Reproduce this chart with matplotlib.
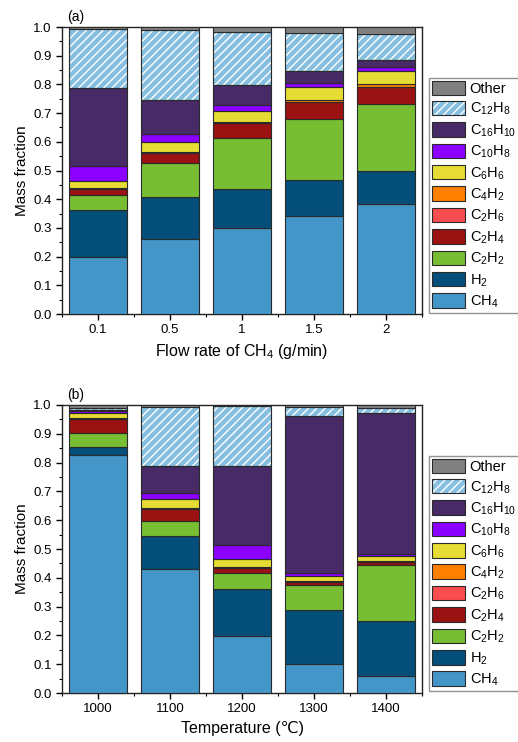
import numpy as np
import matplotlib
matplotlib.use("Agg")
import matplotlib.pyplot as plt
from matplotlib.patches import Patch
from matplotlib.legend_handler import HandlerTuple
from matplotlib.ticker import MultipleLocator

plt.rcParams['font.family'] = ['Liberation Sans', 'DejaVu Sans']
plt.rcParams['mathtext.default'] = 'regular'
plt.rcParams['hatch.linewidth'] = 1.0

# Species, bottom to top of each stacked bar
species = ["CH$_4$", "H$_2$", "C$_2$H$_2$", "C$_2$H$_4$", "C$_2$H$_6$", "C$_4$H$_2$",
           "C$_6$H$_6$", "C$_{10}$H$_8$", "C$_{16}$H$_{10}$", "C$_{12}$H$_8$", "Other"]
colors = ["#4596C8", "#034F7A", "#77BE33", "#9A1212", "#F94C4F", "#FF7F00",
          "#E6DC33", "#8B00FF", "#472A66", "#86BFDF", "#808080"]

# (a) effect of CH4 flow rate
flow_labels = ["0.1", "0.5", "1", "1.5", "2"]
flow_CH4    = [0.197, 0.261, 0.299, 0.340, 0.384]
flow_H2     = [0.165, 0.146, 0.137, 0.126, 0.115]
flow_C2H2   = [0.053, 0.120, 0.178, 0.214, 0.232]
flow_C2H4   = [0.020, 0.035, 0.050, 0.059, 0.059]
flow_C2H6   = [0.001, 0.001, 0.001, 0.001, 0.002]
flow_C4H2   = [0.002, 0.003, 0.004, 0.007, 0.010]
flow_C6H6   = [0.026, 0.032, 0.040, 0.043, 0.043]
flow_C10H8  = [0.053, 0.028, 0.019, 0.015, 0.016]
flow_C16H10 = [0.272, 0.119, 0.069, 0.043, 0.025]
flow_C12H8  = [0.205, 0.246, 0.186, 0.131, 0.090]
flow_Other  = [0.006, 0.009, 0.017, 0.021, 0.024]

# (b) effect of temperature
temp_labels = ["1000", "1100", "1200", "1300", "1400"]
temp_CH4    = [0.825, 0.431, 0.197, 0.100, 0.058]
temp_H2     = [0.029, 0.113, 0.164, 0.187, 0.192]
temp_C2H2   = [0.049, 0.054, 0.055, 0.088, 0.196]
temp_C2H4   = [0.048, 0.042, 0.019, 0.012, 0.010]
temp_C2H6   = [0.001, 0.001, 0.001, 0.001, 0.001]
temp_C4H2   = [0.004, 0.002, 0.002, 0.002, 0.003]
temp_C6H6   = [0.017, 0.031, 0.026, 0.017, 0.017]
temp_C10H8  = [0.006, 0.022, 0.051, 0.011, 0.007]
temp_C16H10 = [0.004, 0.091, 0.272, 0.543, 0.487]
temp_C12H8  = [0.005, 0.206, 0.210, 0.032, 0.020]
temp_Other  = [0.012, 0.007, 0.003, 0.007, 0.009]

flow_data = [flow_CH4, flow_H2, flow_C2H2, flow_C2H4, flow_C2H6, flow_C4H2,
             flow_C6H6, flow_C10H8, flow_C16H10, flow_C12H8, flow_Other]
temp_data = [temp_CH4, temp_H2, temp_C2H2, temp_C2H4, temp_C2H6, temp_C4H2,
             temp_C6H6, temp_C10H8, temp_C16H10, temp_C12H8, temp_Other]

HATCHED = "C$_{12}$H$_8$"
EDGE = "#2a2a2a"
HATCH = "////"

fig = plt.figure(figsize=(5.18, 7.42), dpi=100)
ax_a = fig.add_axes([0.1197, 0.5768, 0.695, 0.3868])
ax_b = fig.add_axes([0.1197, 0.0660, 0.695, 0.3882])


def draw_panel(ax, labels, data, xlabel, tag, legend_top):
    x = np.arange(len(labels))
    bottom = np.zeros(len(labels))
    for name, vals, col in zip(species, data, colors):
        vals = np.asarray(vals)
        if name == HATCHED:
            ax.bar(x, vals, 0.8, bottom=bottom, color=col, edgecolor="white",
                   hatch=HATCH, linewidth=0, zorder=2)
            ax.bar(x, vals, 0.8, bottom=bottom, facecolor="none",
                   edgecolor=EDGE, linewidth=0.8, zorder=3)
        else:
            ax.bar(x, vals, 0.8, bottom=bottom, color=col, edgecolor=EDGE,
                   linewidth=0.8, zorder=3)
        bottom += vals

    ax.set_xlim(-0.5, 4.5)
    ax.set_ylim(0, 1.0)
    ax.set_xticks(x)
    ax.set_xticklabels(labels)
    ax.set_xticks(np.arange(-0.5, 4.6, 1.0), minor=True)
    ax.yaxis.set_major_locator(MultipleLocator(0.1))
    ax.yaxis.set_minor_locator(MultipleLocator(0.05))
    ax.yaxis.set_major_formatter(plt.FormatStrFormatter("%.1f"))
    ax.tick_params(which="major", direction="out", length=4, width=1,
                   labelsize=9.5, top=False, right=False)
    ax.tick_params(which="minor", direction="out", length=2.5, width=0.8,
                   top=False, right=False)
    for s in ax.spines.values():
        s.set_linewidth(1.0)
        s.set_color("#222222")
    ax.set_ylabel("Mass fraction", fontsize=11, labelpad=3)
    ax.set_xlabel(xlabel, fontsize=11.5, labelpad=4)
    ax.text(0.015, 1.012, tag, transform=ax.transAxes, fontsize=10,
            ha="left", va="bottom")

    handles = []
    for name, col in zip(species, colors):
        if name == HATCHED:
            h = Patch(facecolor=col, edgecolor="white", hatch=HATCH, linewidth=0)
            handles.append((h, Patch(facecolor="none", edgecolor=EDGE, linewidth=0.8)))
        else:
            handles.append(Patch(facecolor=col, edgecolor=EDGE, linewidth=0.8))
    leg = fig.legend(handles[::-1], species[::-1], loc="upper left",
                     bbox_to_anchor=(0.828, legend_top), bbox_transform=fig.transFigure,
                     fontsize=10.5, frameon=True, fancybox=False, borderaxespad=0,
                     handlelength=2.25, handleheight=1.15, labelspacing=0.33,
                     handletextpad=0.35, borderpad=0.2,
                     handler_map={tuple: HandlerTuple(ndivide=1, pad=0)})
    leg.get_frame().set_edgecolor("#777777")
    leg.get_frame().set_linewidth(1.0)


draw_panel(ax_a, flow_labels, flow_data, "Flow rate of CH$_4$ (g/min)", "(a)", 0.895)
draw_panel(ax_b, temp_labels, temp_data, "Temperature (\u2103)", "(b)", 0.3854)

fig.savefig("out.png", dpi=100)
